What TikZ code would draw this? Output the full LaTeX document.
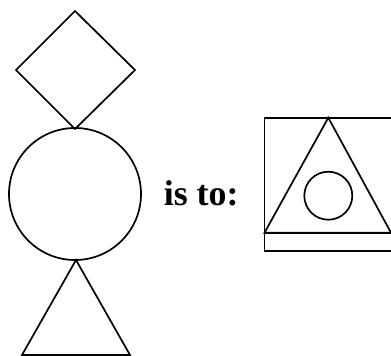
\documentclass[tikz,border=0pt]{standalone}
\usepackage{fontspec}
\setmainfont{Liberation Serif}
\usetikzlibrary{positioning}
\tikzset{
  every picture/.style={color=black, line width=1.7bp, line join=miter},
  figline/.style={draw=black},
  lbl/.style={font=\fontsize{36}{40}\selectfont\bfseries, inner sep=0pt, anchor=base west},
}

\begin{document}
\begin{tikzpicture}[x=1bp, y=-1bp]
  \useasboundingbox (0,0) rectangle (391,356);
  % left column: diamond on top of a circle on top of a triangle
  \draw[figline] (75,11) -- (135,70) -- (75,129) -- (16,70) -- cycle;
  \draw[figline] (75,194) circle[radius=66];
  \draw[figline] (76,260) -- (130,355) -- (22,355) -- cycle;
  \node[lbl] (isto) at (163,205) {is to:};
  % right: box holding a triangle with a small circle inside
  \draw[figline] (394,117.7) -- (264.5,117.7) -- (264.5,251) -- (394,251);
  \draw[figline] (264.5,232.7) -- (394,232.7);
  \draw[figline] (328.3,117.7) -- (391,232.7) -- (264.5,232.7) -- cycle;
  \draw[figline] (328.3,195.7) circle[radius=24];
\end{tikzpicture}
\end{document}
